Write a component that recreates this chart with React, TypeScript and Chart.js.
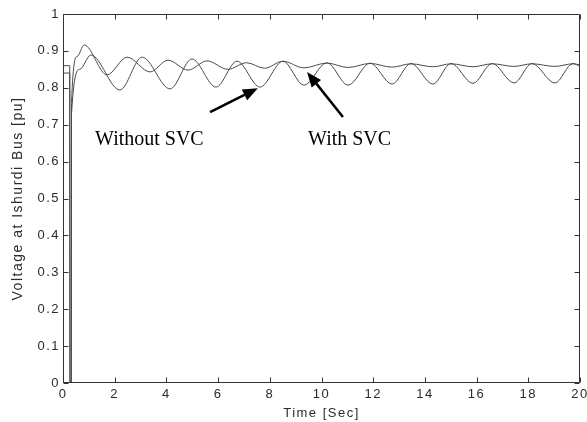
import React, { useEffect, useRef } from 'react';
import { Chart, registerables } from 'chart.js';

Chart.register(...registerables);

// Time [s] and voltage [pu]
const withSvcTime = [0, 0.26, 0.27, 0.32, 0.33, 0.55, 0.82, 1.7, 2.48, 3.37, 4.06, 4.84, 5.57, 6.38, 7.1, 7.8, 8.51, 9.32, 10.21, 11.03, 11.88, 12.73, 13.46, 14.31, 15.01, 15.86, 16.6, 17.45, 18.14, 19.03, 19.73, 20];
const withSvcVolt = [0.86, 0.86, 0, 0, 0.76, 0.885, 0.916, 0.835, 0.883, 0.843, 0.875, 0.848, 0.873, 0.85, 0.868, 0.853, 0.872, 0.854, 0.867, 0.855, 0.866, 0.856, 0.865, 0.857, 0.865, 0.857, 0.865, 0.858, 0.865, 0.858, 0.865, 0.862];

const withoutSvcTime = [0, 0.26, 0.27, 0.32, 0.33, 0.65, 1.08, 2.2, 3.06, 4.14, 4.99, 5.92, 6.73, 7.62, 8.51, 9.32, 10.21, 11.03, 11.88, 12.73, 13.46, 14.31, 15.01, 15.86, 16.6, 17.45, 18.14, 19.03, 19.73, 20];
const withoutSvcVolt = [0.84, 0.84, 0, 0, 0.73, 0.85, 0.889, 0.794, 0.883, 0.797, 0.878, 0.802, 0.872, 0.802, 0.872, 0.807, 0.868, 0.807, 0.867, 0.81, 0.866, 0.81, 0.866, 0.812, 0.866, 0.813, 0.866, 0.813, 0.866, 0.858];

const xTickValues = [0, 2, 4, 6, 8, 10, 12, 14, 16, 18, 20];
const yTickValues = [0, 0.1, 0.2, 0.3, 0.4, 0.5, 0.6, 0.7, 0.8, 0.9, 1];

const xTitle = 'Time [Sec]';
const yTitle = 'Voltage at Ishurdi Bus [pu]';

// annotations (data coordinates)
const labelTexts = ['Without SVC', 'With SVC'];
const labelX = [1.24, 9.48];
const labelY = [0.645, 0.645];
const arrowTailX = [5.69, 10.83];
const arrowTailY = [0.734, 0.721];
const arrowTipX = [7.54, 9.44];
const arrowTipY = [0.799, 0.843];

const toPoints = (t: number[], v: number[]) => t.map((x, i) => ({ x, y: v[i] }));

const spacingPlugin = {
  id: 'spacing',
  beforeLayout(chart: any) {
    chart.ctx.letterSpacing = '1.5px';
  },
  beforeDraw(chart: any) {
    chart.ctx.letterSpacing = '1.5px';
  },
};

const framePlugin = {
  id: 'frameAnno',
  afterDraw(chart: any) {
    const ctx: CanvasRenderingContext2D = chart.ctx;
    const { left, right, top, bottom } = chart.chartArea;
    const xs = chart.scales.x;
    const ys = chart.scales.y;
    ctx.save();
    (ctx as any).letterSpacing = '0px';
    ctx.strokeStyle = '#333';
    ctx.lineWidth = 1;
    const L = Math.round(left) + 0.5;
    const R = Math.round(right) - 0.5;
    const T = Math.round(top) + 0.5;
    const B = Math.round(bottom) - 0.5;
    ctx.beginPath();
    ctx.rect(L, T, R - L, B - T);
    ctx.stroke();
    const tl = 5;
    ctx.beginPath();
    xTickValues.forEach((v) => {
      const px = Math.round(xs.getPixelForValue(v)) + 0.5;
      ctx.moveTo(px, B);
      ctx.lineTo(px, B - tl);
      ctx.moveTo(px, T);
      ctx.lineTo(px, T + tl);
    });
    yTickValues.forEach((v) => {
      const py = Math.round(ys.getPixelForValue(v)) + 0.5;
      ctx.moveTo(L, py);
      ctx.lineTo(L + tl, py);
      ctx.moveTo(R, py);
      ctx.lineTo(R - tl, py);
    });
    ctx.stroke();

    // arrows
    ctx.fillStyle = '#000';
    ctx.strokeStyle = '#000';
    for (let i = 0; i < arrowTailX.length; i++) {
      const x0 = xs.getPixelForValue(arrowTailX[i]);
      const y0 = ys.getPixelForValue(arrowTailY[i]);
      const x1 = xs.getPixelForValue(arrowTipX[i]);
      const y1 = ys.getPixelForValue(arrowTipY[i]);
      const dx = x1 - x0;
      const dy = y1 - y0;
      const len = Math.hypot(dx, dy);
      const ux = dx / len;
      const uy = dy / len;
      const hl = 15;
      const hw = 6;
      const bx = x1 - ux * hl;
      const by = y1 - uy * hl;
      ctx.lineWidth = 2.5;
      ctx.beginPath();
      ctx.moveTo(x0, y0);
      ctx.lineTo(bx + ux * 1, by + uy * 1);
      ctx.stroke();
      ctx.beginPath();
      ctx.moveTo(x1, y1);
      ctx.lineTo(bx - uy * hw, by + ux * hw);
      ctx.lineTo(bx + uy * hw, by - ux * hw);
      ctx.closePath();
      ctx.fill();
    }

    // labels
    ctx.font = '20px "Liberation Serif", "Times New Roman", serif';
    ctx.textAlign = 'left';
    ctx.textBaseline = 'alphabetic';
    ctx.fillStyle = '#000';
    for (let i = 0; i < labelTexts.length; i++) {
      ctx.fillText(labelTexts[i], xs.getPixelForValue(labelX[i]), ys.getPixelForValue(labelY[i]));
    }
    ctx.restore();
  },
};

export default function App() {
  const ref = useRef<HTMLCanvasElement>(null);
  useEffect(() => {
    const canvas = ref.current!;
    const tickFont = { family: '"Liberation Sans", Arial, sans-serif', size: 13 };
    const chart = new Chart(canvas, {
      type: 'line',
      data: {
        datasets: [
          {
            label: 'With SVC',
            data: toPoints(withSvcTime, withSvcVolt),
            borderColor: '#4a4a4a',
            borderWidth: 1,
            pointRadius: 0,
            cubicInterpolationMode: 'monotone',
            fill: false,
          },
          {
            label: 'Without SVC',
            data: toPoints(withoutSvcTime, withoutSvcVolt),
            borderColor: '#4a4a4a',
            borderWidth: 1,
            pointRadius: 0,
            cubicInterpolationMode: 'monotone',
            fill: false,
          },
        ],
      },
      options: {
        responsive: false,
        animation: false,
        devicePixelRatio: 1,
        layout: { padding: { left: 0, right: 7, top: 14, bottom: 0 } },
        plugins: { legend: { display: false }, tooltip: { enabled: false } },
        scales: {
          x: {
            type: 'linear',
            min: 0,
            max: 20,
            grid: { display: false, drawTicks: false },
            border: { display: false },
            afterBuildTicks: (s: any) => {
              s.ticks = xTickValues.map((v) => ({ value: v }));
            },
            afterFit: (s: any) => {
              s.height = 39;
              s.paddingLeft = 0;
              s.paddingRight = 0;
            },
            ticks: {
              font: tickFont,
              color: '#2b2b2b',
              padding: 4,
              maxRotation: 0,
              callback: (v: any) => String(v),
            },
            title: {
              display: true,
              text: xTitle,
              font: { family: '"Liberation Sans", Arial, sans-serif', size: 13 },
              color: '#2b2b2b',
              padding: { top: 0, bottom: 1 },
            },
          },
          y: {
            type: 'linear',
            min: 0,
            max: 1,
            grid: { display: false, drawTicks: false },
            border: { display: false },
            afterBuildTicks: (s: any) => {
              s.ticks = yTickValues.map((v) => ({ value: v }));
            },
            afterFit: (s: any) => {
              s.width = 63;
              s.paddingTop = 0;
              s.paddingBottom = 0;
            },
            ticks: {
              font: tickFont,
              color: '#2b2b2b',
              padding: 3,
              callback: (v: any) => String(Number(Number(v).toFixed(1))),
            },
            title: {
              display: true,
              text: yTitle,
              font: { family: '"Liberation Sans", Arial, sans-serif', size: 14 },
              color: '#2b2b2b',
              padding: { top: 10, bottom: 0 },
            },
          },
        },
      } as any,
      plugins: [spacingPlugin, framePlugin],
    });
    return () => chart.destroy();
  }, []);
  return (
    <div style={{ position: 'absolute', left: 0, top: 0, width: 587, height: 422, background: '#fff' }}>
      <canvas ref={ref} width={587} height={422} style={{ display: 'block', width: 587, height: 422 }} />
    </div>
  );
}
